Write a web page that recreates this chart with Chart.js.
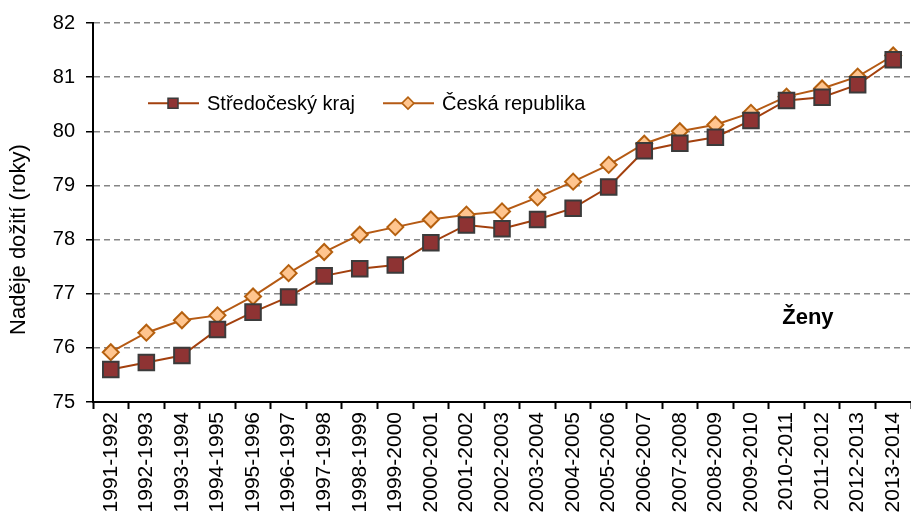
<!DOCTYPE html>
<html>
<head>
<meta charset="utf-8">
<script src="https://cdn.jsdelivr.net/npm/chart.js@4/dist/chart.umd.min.js"></script>
<style>
  html, body { margin: 0; padding: 0; background: #fff; }
  #wrap { width: 911px; height: 517px; }
</style>
</head>
<body>
<div id="wrap"><canvas id="lifeChart"></canvas></div>
<script>
const periods = [
  '1991-1992', '1992-1993', '1993-1994', '1994-1995', '1995-1996', '1996-1997',
  '1997-1998', '1998-1999', '1999-2000', '2000-2001', '2001-2002', '2002-2003',
  '2003-2004', '2004-2005', '2005-2006', '2006-2007', '2007-2008', '2008-2009',
  '2009-2010', '2010-2011', '2011-2012', '2012-2013', '2013-2014'
];
const stredocesky = [
  75.60, 75.73, 75.86, 76.34, 76.66, 76.94, 77.33, 77.46, 77.53, 77.94, 78.27, 78.20,
  78.37, 78.58, 78.97, 79.64, 79.78, 79.89, 80.20, 80.57, 80.63, 80.86, 81.32
];
const ceskaRepublika = [
  75.92, 76.28, 76.51, 76.60, 76.95, 77.38, 77.77, 78.09, 78.23, 78.37, 78.46, 78.52,
  78.78, 79.07, 79.38, 79.77, 80.00, 80.12, 80.34, 80.64, 80.79, 81.01, 81.40
];
const seriesNames = ['Středočeský kraj', 'Česká republika'];
const yTitle = 'Naděje dožití (roky)';
const note = 'Ženy';

const FONT = "'Liberation Sans', Arial, sans-serif";

// legend drawn inside the plot, the "Ženy" note and the y title (sits a bit low in the original)
const insideLabels = {
  id: 'insideLabels',
  afterDraw(chart) {
    const ctx = chart.ctx;
    const area = chart.chartArea;
    const y = chart.scales.y;
    const ly = y.getPixelForValue(80.52);
    ctx.save();
    ctx.font = '20px ' + FONT;
    ctx.textBaseline = 'middle';
    ctx.textAlign = 'left';
    chart.data.datasets.forEach((ds, i) => {
      const x0 = area.left + 55 + i * 235;
      ctx.strokeStyle = ds.borderColor;
      ctx.lineWidth = 2;
      ctx.beginPath();
      ctx.moveTo(x0, ly);
      ctx.lineTo(x0 + 51, ly);
      ctx.stroke();
      ctx.fillStyle = ds.pointBackgroundColor;
      ctx.strokeStyle = ds.pointBorderColor;
      ctx.lineWidth = 1.5;
      const cx = x0 + 25;
      ctx.beginPath();
      if (ds.pointStyle === 'rect') {
        ctx.rect(cx - 5, ly - 5, 10, 10);
      } else {
        ctx.moveTo(cx - 6, ly);
        ctx.lineTo(cx, ly - 6);
        ctx.lineTo(cx + 6, ly);
        ctx.lineTo(cx, ly + 6);
        ctx.closePath();
      }
      ctx.fill();
      ctx.stroke();
      ctx.fillStyle = '#000';
      ctx.fillText(ds.label, x0 + 59, ly + 1);
    });
    ctx.font = 'bold 22px ' + FONT;
    ctx.textAlign = 'center';
    ctx.fillText(note, area.left + (area.right - area.left) * 0.874, y.getPixelForValue(76.55));

    ctx.translate(19, y.getPixelForValue(78));
    ctx.rotate(-Math.PI / 2);
    ctx.font = '22px ' + FONT;
    ctx.fillText(yTitle, 0, 0);
    ctx.restore();
  }
};

new Chart(document.getElementById('lifeChart'), {
  type: 'line',
  data: {
    labels: periods,
    datasets: [
      {
        label: seriesNames[0],
        data: stredocesky,
        borderColor: '#a3400e',
        borderWidth: 2,
        pointStyle: 'rect',
        pointRadius: 11,
        pointBackgroundColor: '#8e3333',
        pointBorderColor: '#3b3b3b',
        pointBorderWidth: 2,
        tension: 0
      },
      {
        label: seriesNames[1],
        data: ceskaRepublika,
        borderColor: '#b55a14',
        borderWidth: 2,
        pointStyle: 'rectRot',
        pointRadius: 8,
        pointBackgroundColor: '#ffc58f',
        pointBorderColor: '#b5600f',
        pointBorderWidth: 2,
        tension: 0
      }
    ]
  },
  options: {
    responsive: true,
    maintainAspectRatio: false,
    animation: false,
    layout: { autoPadding: false, padding: { top: 16, right: 0, left: 0, bottom: 0 } },
    plugins: {
      legend: { display: false },
      tooltip: { enabled: false }
    },
    scales: {
      x: {
        type: 'category',
        offset: true,
        afterFit(scale) {
          scale.height = 115;
          scale.paddingLeft = 0;
          scale.paddingRight = 0;
        },
        grid: {
          offset: true,
          drawOnChartArea: false,
          drawTicks: true,
          tickLength: 7,
          tickColor: '#000',
          tickWidth: 2
        },
        border: { display: true, color: '#000', width: 2 },
        ticks: {
          minRotation: 90,
          maxRotation: 90,
          autoSkip: false,
          padding: 3,
          color: '#000',
          font: { family: FONT, size: 21 }
        }
      },
      y: {
        min: 75,
        max: 82,
        afterFit(scale) {
          scale.width = 93;
        },
        grid: {
          color: '#858585',
          lineWidth: 1.5,
          tickColor: '#000',
          tickLength: 7,
          tickWidth: 1.5
        },
        border: { display: true, color: '#000', width: 2, dash: [6, 4] },
        ticks: {
          stepSize: 1,
          padding: 11,
          color: '#000',
          font: { family: FONT, size: 20 }
        },
        title: { display: false, text: yTitle }
      }
    }
  },
  plugins: [insideLabels]
});
</script>
</body>
</html>
